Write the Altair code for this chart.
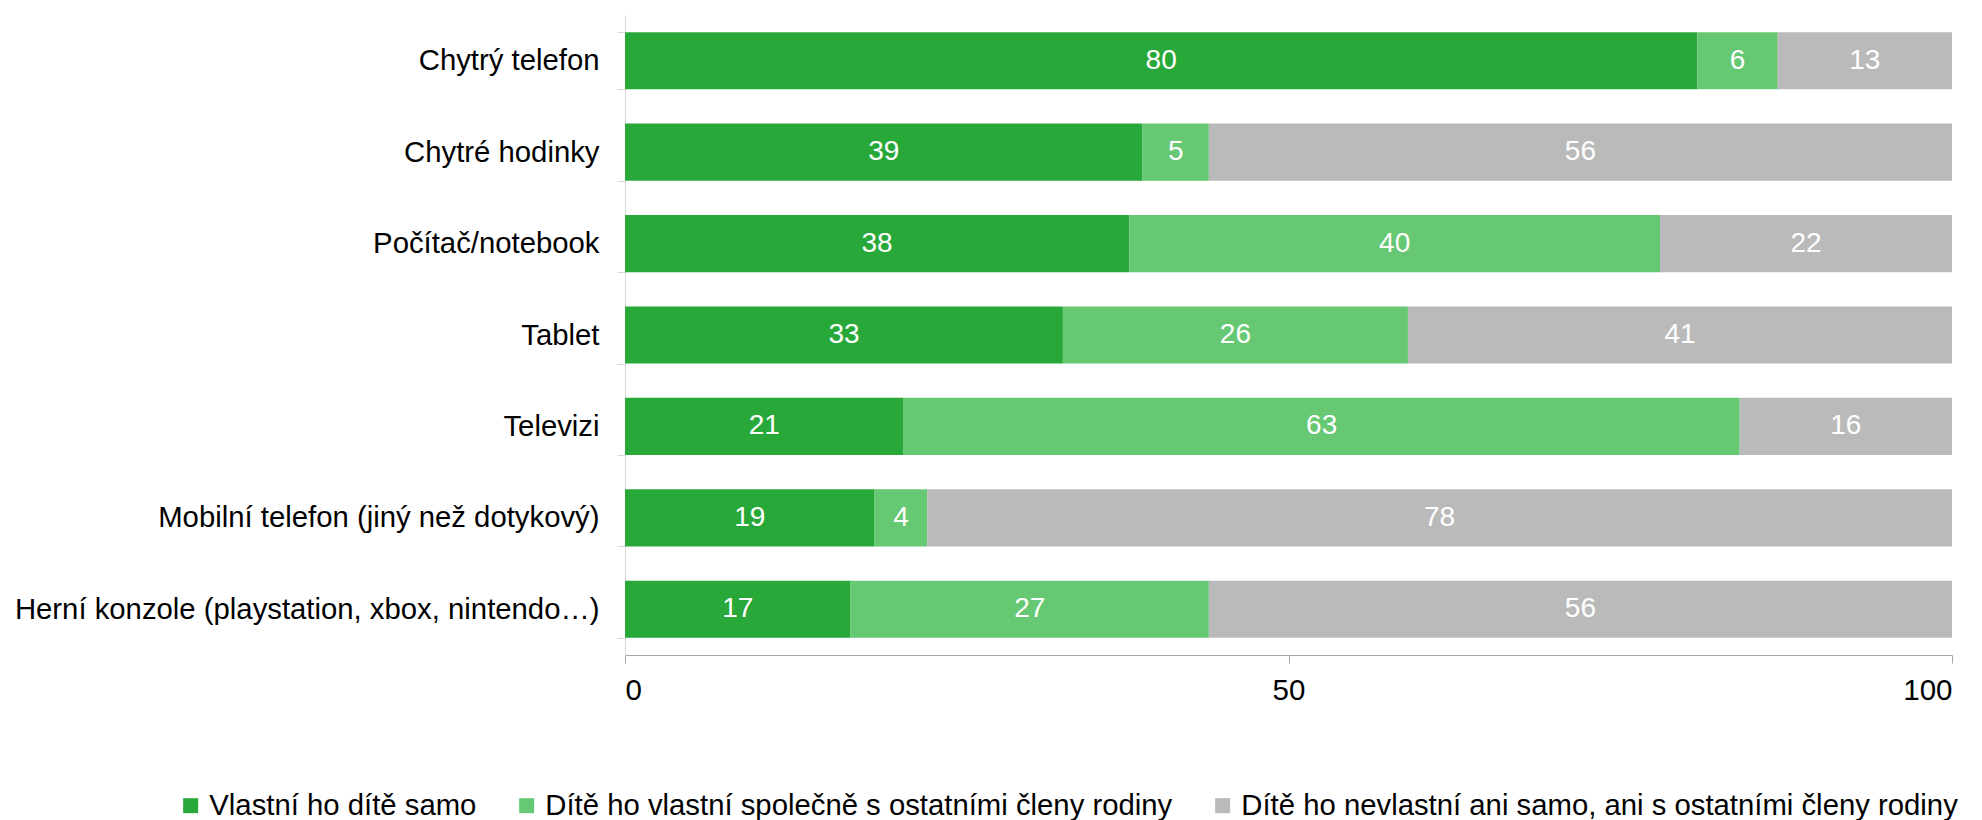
import altair as alt
import pandas as pd

categories = [
    "Chytrý telefon",
    "Chytré hodinky\u00a0",
    "Počítač/notebook",
    "Tablet",
    "Televizi",
    "Mobilní telefon (jiný než dotykový)",
    "Herní konzole (playstation, xbox, nintendo…)",
]
series = [
    "Vlastní ho dítě samo",
    "Dítě ho vlastní společně s ostatními členy rodiny",
    "Dítě ho nevlastní ani samo, ani s ostatními členy rodiny",
]
own = [80, 39, 38, 33, 21, 19, 17]
shared = [6, 5, 40, 26, 63, 4, 27]
none_ = [13, 56, 22, 41, 16, 78, 56]
colors = ["#29a83a", "#66c873", "#bababa"]
x_ticks = [0, 0.5, 1]

rows = []
for i, c in enumerate(categories):
    for k, vals in enumerate([own, shared, none_]):
        rows.append({"cat": c, "series": series[k], "value": vals[i], "order": k})
df = pd.DataFrame(rows)

FONT = "Liberation Sans"
FS = 29.3

base = alt.Chart(df).transform_stack(
    stack="value",
    as_=["x0", "x1"],
    groupby=["cat"],
    sort=[alt.SortField("order", order="ascending")],
    offset="normalize",
).transform_calculate(mid="(datum.x0 + datum.x1) / 2")

yenc = alt.Y(
    "cat:N",
    sort=categories,
    scale=alt.Scale(paddingInner=0.375, paddingOuter=0.1875),
    axis=alt.Axis(
        title=None,
        tickBand="extent",
        domainColor="#d9d9d9",
        tickColor="#d9d9d9",
        tickSize=8,
        labelPadding=18,
        labelFontSize=29.3,
        labelFont=FONT,
        labelColor="#000000",
        labelLimit=1000,
    ),
)

bars = base.mark_bar().encode(
    x=alt.X(
        "x0:Q",
        scale=alt.Scale(domain=[0, 1], nice=False),
        axis=alt.Axis(
            title=None,
            values=x_ticks,
            labelExpr="datum.value * 100",
            grid=False,
            domainColor="#a6a6a6",
            tickColor="#a6a6a6",
            tickSize=8,
            labelPadding=13,
            labelFontSize=29.5,
            labelFont=FONT,
            labelColor="#000000",
        ),
    ),
    x2="x1:Q",
    y=yenc,
    color=alt.Color(
        "series:N",
        scale=alt.Scale(domain=series, range=colors),
        legend=alt.Legend(
            title=None,
            orient="none",
            legendX=-449,
            legendY=776,
            direction="horizontal",
            columns=3,
            symbolType="square",
            symbolSize=225,
            symbolStrokeWidth=0,
            labelFontSize=FS,
            labelFont=FONT,
            labelColor="#000000",
            labelOffset=4,
            columnPadding=35,
            labelLimit=1000,
        ),
    ),
)

labels = base.mark_text(
    color="white", fontSize=28, font=FONT, align="center", baseline="middle"
).encode(
    x=alt.X("mid:Q"),
    y=alt.Y("cat:N", sort=categories),
    text=alt.Text("value:Q"),
)

chart = (
    alt.layer(bars, labels)
    .properties(
        width=1327,
        height=640,
        autosize=alt.AutoSizeParams(type="none"),
        padding={"left": 617, "top": 7, "right": 22, "bottom": 165},
    )
    .configure_view(stroke=None)
    .configure_axis(grid=False)
)

chart.save("out.html", embed_options={"renderer": "svg", "actions": False})
